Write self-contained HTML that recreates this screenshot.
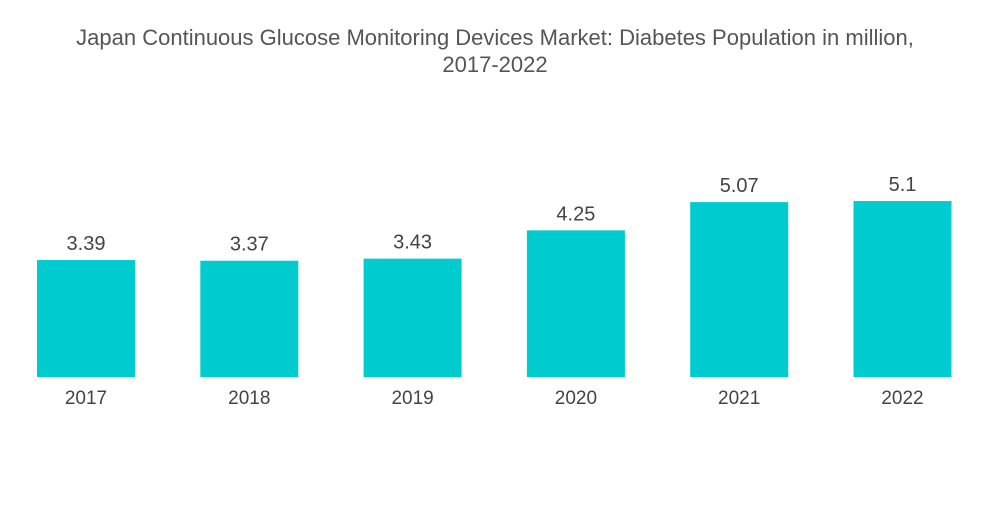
<!DOCTYPE html>
<html><head><meta charset="utf-8"><style>
body{margin:0;background:#fff;font-family:"Liberation Sans",sans-serif;}
</style></head><body>
<svg width="1000" height="504">
<text x="495" y="45" text-anchor="middle" font-size="22" fill="#555">Japan Continuous Glucose Monitoring Devices Market: Diabetes Population in million,</text>
<text x="495" y="72" text-anchor="middle" font-size="22" fill="#555">2017-2022</text>
<g id="bars"></g>
</svg>
<script>
const categories=["2017","2018","2019","2020","2021","2022"];
const values=[3.39,3.37,3.43,4.25,5.07,5.1];
const valueLabels=["3.39","3.37","3.43","4.25","5.07","5.1"];
const base=377,scale=34.5,x0=37,step=163.3,bw=98;
const y=v=>base-v*scale;
const g=document.getElementById('bars');
const ns='http://www.w3.org/2000/svg';
categories.forEach((c,i)=>{
const x=x0+i*step;
const r=document.createElementNS(ns,'rect');
r.setAttribute('x',x);r.setAttribute('y',y(values[i]));r.setAttribute('width',bw);r.setAttribute('height',base-y(values[i]));r.setAttribute('fill','#00cccf');


g.appendChild(r);
const t=document.createElementNS(ns,'text');
t.setAttribute('x',x+bw/2);t.setAttribute('y',y(values[i])-10);t.setAttribute('text-anchor','middle');t.setAttribute('font-size','20');t.setAttribute('fill','#444');
t.textContent=valueLabels[i];


g.appendChild(t);
const l=document.createElementNS(ns,'text');
l.setAttribute('x',x+bw/2);l.setAttribute('y',404);l.setAttribute('text-anchor','middle');l.setAttribute('font-size','19');l.setAttribute('fill','#444');
l.textContent=c;


g.appendChild(l);
});
</script>
</body></html>
